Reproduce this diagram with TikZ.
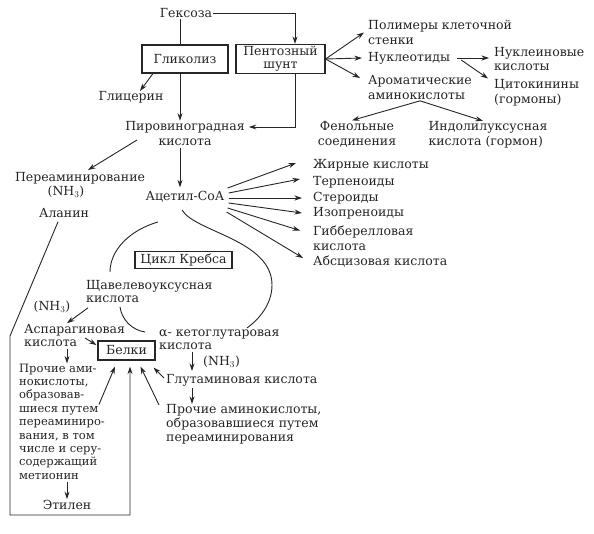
\documentclass[tikz,border=0pt]{standalone}
\usepackage{fontspec}
\setmainfont{DejaVu Serif}
\usetikzlibrary{arrows.meta,calc}
\definecolor{ink}{gray}{0.15}
\begin{document}
\begin{tikzpicture}[x=1pt,y=-1pt,
  every node/.style={inner sep=1pt, text=ink, font=\fontsize{12.5}{15}\selectfont},
  tight/.style={font=\fontsize{12.5}{13}\selectfont},
  box/.style={draw=ink, line width=1.1pt, inner sep=2pt},
  arr/.style={draw=ink, line width=0.9pt, -{Stealth[length=7.5pt,width=5pt]}},
  ln/.style={draw=ink, line width=0.9pt}]
\useasboundingbox (0,0) rectangle (594,533);
\fill[white] (0,0) rectangle (594,533);

% nodes
\node (gex) at (186,13) {Гексоза};
\node[box, minimum width=86pt, minimum height=28pt] (glik) at (185,59) {Гликолиз};
\node[box, minimum width=89pt, minimum height=28pt, align=center, tight] (pent) at (280.5,59) {Пентозный\\шунт};
\node (glic) at (131,97) {Глицерин};
\node[align=center] (piro) at (185,134) {Пировиноградная\\кислота};
\node (perea) at (80,178) {Переаминирование};
\node (nhc) at (66,192) {(NH$_3$)};
\node (alan) at (64,213) {Аланин};
\node (acet) at (185,197) {Ацетил-СоА};

\node[anchor=west] (jir) at (312,165) {Жирные кислоты};
\node[anchor=west] (terp) at (312,182) {Терпеноиды};
\node[anchor=west] (ster) at (312,198) {Стероиды};
\node[anchor=west] (izop) at (312,213) {Изопреноиды};
\node[anchor=west, align=left] (gibb) at (312,238.5) {Гибберелловая\\кислота};
\node[anchor=west] (absc) at (312,262) {Абсцизовая кислота};

\node[anchor=west, align=left] (polim) at (367,32.5) {Полимеры клеточной\\стенки};
\node[anchor=west] (nukl) at (367,58) {Нуклеотиды};
\node[anchor=west, align=left] (arom) at (367,87.5) {Ароматические\\аминокислоты};
\node[anchor=west, align=left, font=\fontsize{12.5}{14}\selectfont] (nuklein) at (493,59) {Нуклеиновые\\кислоты};
\node[anchor=west, align=left] (cito) at (493,92.5) {Цитокинины\\(гормоны)};
\node[align=center] (fenol) at (357,134.5) {Фенольные\\соединения};
\node[align=left] (indol) at (488,134.5) {Индолилуксусная\\кислота (гормон)};

\node[box, minimum width=97pt, minimum height=17pt, inner sep=1pt, line width=1.3pt] (krebs) at (183.5,260) {Цикл Кребса};
\node[anchor=west, align=left, tight] (shav) at (85,291.5) {Щавелевоуксусная\\кислота};
\node (nha) at (52,307) {(NH$_3$)};
\node[anchor=west, align=left, tight] (asp) at (23,335.5) {Аспарагиновая\\кислота};
\node[box, minimum width=57pt, minimum height=19pt, inner sep=1pt] (belki) at (126.5,350.5) {Белки};
\node[anchor=west, align=left, tight] (keto) at (158,339.5) {α- кетоглутаровая\\кислота};
\node[anchor=west] (nhb) at (202,362) {(NH$_3$)};
\node[anchor=west] (glut) at (165,380) {Глутаминовая кислота};
\node[anchor=west, align=left, font=\fontsize{12.5}{14}\selectfont] (proch2) at (165,424) {Прочие аминокислоты,\\образовавшиеся путем\\переаминирования};
\node[anchor=west, align=left, font=\fontsize{11.5}{13.4}\selectfont] (proch1) at (18,421.5) {Прочие ами-\\нокислоты,\\образовав-\\шиеся путем\\переаминиро-\\вания, в том\\числе и серу-\\содержащий\\метионин};
\node (etil) at (67,505) {Этилен};

% top connectors
\draw[arr] (gex.east) -| ($(pent.north)+(14.5,0)$);
\draw[ln] ($(gex.south)+(-6,0)$) -- ($(glik.north)+(-5,0)$);
\draw[arr] ($(glik.south)+(-32,0)$) -- ($(glic.north)+(9,1)$);
\draw[arr] ($(glik.south)+(-5,0)$) -- ($(piro.north)+(-5,0)$);
\draw[arr] ($(pent.south)+(14.5,0)$) |- ($(piro.east)+(3,-7)$);
\draw[arr] ($(piro)+(-48,6)$) -- ($(perea)+(8,-8)$);
\draw[arr] ($(piro.south)+(-5,1)$) -- ($(acet.north)+(-5,-3)$);

\draw[arr] (pent.east) -- ($(polim.west)+(-3,0)$);
\draw[arr] (pent.east) -- ($(nukl.west)+(-5,0)$);
\draw[arr] (pent.east) -- ($(arom.west)+(-7,-9.5)$);
\draw[arr] ($(nukl.east)+(6,0)$) -- ($(nuklein.west)+(-4,-1)$);
\draw[arr] ($(nukl.east)+(10,2)$) -- ($(cito.west)+(-5,-14)$);
\draw[arr] (arom.south) -- ($(fenol.north)+(-5,0)$);
\draw[arr] (arom.south) -- ($(indol.north)+(-5,1)$);

% acetyl-CoA fan
\draw[arr] ($(acet.east)+(2,-9)$) -- ($(jir.west)+(-16,-2)$);
\draw[arr] ($(acet.east)+(3,-4)$) -- ($(terp.west)+(-12,-3)$);
\draw[arr] ($(acet.east)+(3,1)$) -- ($(ster.west)+(-10,0)$);
\draw[arr] ($(acet.east)+(3,6)$) -- ($(izop.west)+(-10,0)$);
\draw[arr] ($(acet.east)+(2,11)$) -- ($(gibb.west)+(-12,-8)$);
\draw[arr] ($(acet.east)+(1,15)$) -- ($(absc.west)+(-9,-4)$);

% Krebs cycle arcs
\coordinate (kA) at (158,222);
\coordinate (kB) at (110,272);
\coordinate (kC) at (182,210);
\coordinate (kD) at (247,328);
\coordinate (kE) at (120,307);
\coordinate (kF) at (145,332);
\draw[ln] (kA) .. controls (130,230) and (110,250) .. (kB);
\draw[ln] (kC) .. controls (195,232) and (272,240) .. (272,285)
               .. controls (272,305) and (258,320) .. (kD);
\draw[ln] (kE) .. controls (122,320) and (132,330) .. (kF);

% lower connectors
\draw[arr] ($(shav.south west)+(3,4)$) -- ($(asp.north west)+(44,0)$);
\draw[arr] ($(asp.west)+(62,2.5)$) -- ($(belki.west)+(-1,-5.5)$);
\draw[arr] ($(asp.south west)+(44,1)$) -- ($(proch1.north west)+(49,1)$);
\draw[arr] ($(proch1.south west)+(49,1)$) -- (etil.north);
\draw[arr] ($(proch1.north west)+(81,42)$) -- ($(belki.south)+(-11.5,6)$);
\draw[arr] ($(alan.south)+(-6,3)$) -- (10,336) -- (10,515) -- (130,515) -- ($(belki.south)+(3.5,6)$);
\draw[arr] ($(proch2.north west)+(-6,2)$) -- ($(belki.south)+(14,6)$);
\draw[arr] ($(glut.west)+(-1,-2)$) -- ($(belki.south east)+(-2,7)$);
\draw[arr] ($(keto.south west)+(34,1)$) -- ($(glut.north west)+(27,-2)$);
\draw[arr] ($(glut.south west)+(27,1)$) -- ($(proch2.north west)+(27,1)$);
\end{tikzpicture}
\end{document}
